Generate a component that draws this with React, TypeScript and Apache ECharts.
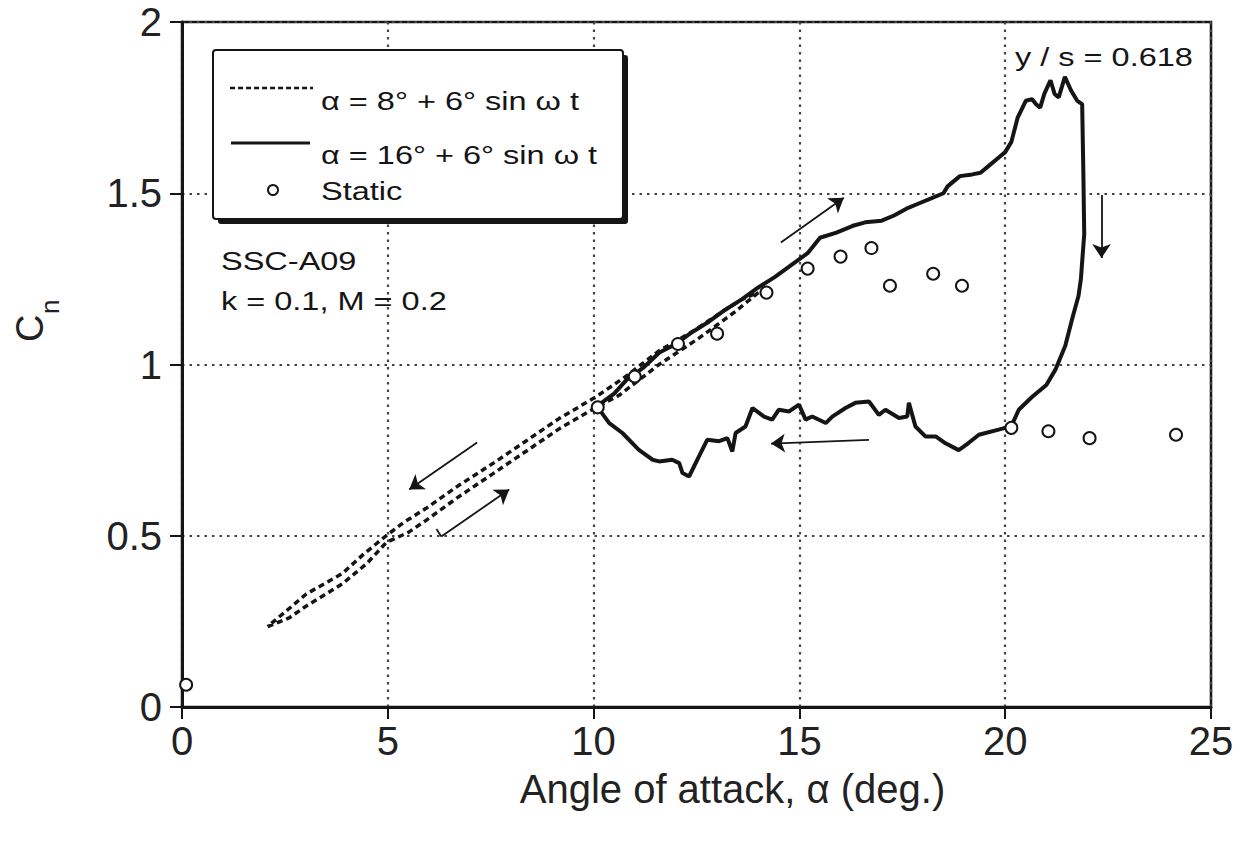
import React, { useEffect, useRef } from "react";
import * as echarts from "echarts";

// ---------- data ----------
const xTicks = [0, 5, 10, 15, 20, 25];
const yTicks = [0, 0.5, 1, 1.5, 2];

// alpha = 8 + 6 sin wt  (lower branch then upper branch)
const dashAlpha = [
  2.08, 2.6, 3.02, 3.5, 3.9, 4.5, 4.96, 5.5, 5.93, 6.7, 7.54, 8.4, 9.16, 9.96, 10.62, 11.59, 12.56, 13.45, 14.0,
  13.6, 13.2, 12.4, 11.59, 10.78, 10.05, 9.16, 8.4, 7.54, 6.7, 5.93, 5.4, 4.96, 4.4, 3.9, 3.02, 2.53, 2.08,
];
const dashCn = [
  0.235, 0.26, 0.295, 0.33, 0.36, 0.42, 0.48, 0.51, 0.545, 0.612, 0.68, 0.75, 0.812, 0.868, 0.91, 1.0, 1.077, 1.155, 1.21,
  1.19, 1.16, 1.096, 1.04, 0.965, 0.905, 0.842, 0.78, 0.71, 0.645, 0.58, 0.54, 0.5, 0.445, 0.39, 0.33, 0.28, 0.235,
];

// alpha = 16 + 6 sin wt  (upstroke, stall, downstroke)
const solidAlpha = [
  10.1, 10.5, 10.8, 11.2, 11.6, 12.0, 12.4, 12.8, 13.2, 13.6, 14.0, 14.4, 14.8, 15.2, 15.5, 15.9, 16.3, 16.6, 17.0,
  17.3, 17.6, 17.9, 18.2, 18.5, 18.6, 18.9, 19.2, 19.4, 19.6, 19.8, 20.0, 20.15, 20.3, 20.5, 20.65, 20.75, 20.85,
  20.95, 21.1, 21.2, 21.3, 21.45, 21.6, 21.75, 21.87, 21.9, 21.92, 21.87, 21.84, 21.78, 21.62, 21.46, 21.22, 21.0,
  20.65, 20.33, 20.15, 19.84, 19.36, 19.1, 18.87, 18.55, 18.31, 18.06, 17.82, 17.66, 17.62, 17.42, 17.09, 16.93,
  16.69, 16.36, 16.12, 15.8, 15.64, 15.31, 15.15, 14.99, 14.75, 14.5, 14.34, 14.14, 13.86, 13.69, 13.45, 13.37,
  13.25, 13.05, 12.76, 12.56, 12.32, 12.16, 12.08, 11.91, 11.59, 11.43, 11.1, 10.7, 10.38, 10.1,
];
const solidCn = [
  0.88, 0.915, 0.955, 0.99, 1.035, 1.06, 1.095, 1.125, 1.16, 1.19, 1.225, 1.255, 1.29, 1.325, 1.37, 1.385, 1.405, 1.415, 1.42,
  1.435, 1.455, 1.47, 1.485, 1.5, 1.52, 1.55, 1.555, 1.56, 1.58, 1.6, 1.62, 1.65, 1.72, 1.77, 1.775, 1.76, 1.75,
  1.79, 1.83, 1.79, 1.78, 1.84, 1.8, 1.77, 1.76, 1.55, 1.38, 1.3, 1.25, 1.2, 1.13, 1.055, 0.985, 0.94,
  0.905, 0.868, 0.82, 0.81, 0.795, 0.77, 0.75, 0.77, 0.79, 0.79, 0.819, 0.888, 0.848, 0.844, 0.868, 0.853,
  0.892, 0.888, 0.873, 0.848, 0.829, 0.848, 0.839, 0.883, 0.863, 0.868, 0.839, 0.848, 0.873, 0.819, 0.8, 0.746,
  0.785, 0.776, 0.78, 0.732, 0.673, 0.683, 0.712, 0.722, 0.717, 0.722, 0.751, 0.8, 0.829, 0.875,
];

const staticAlpha = [0.1, 10.1, 11.0, 12.05, 13.0, 14.2, 15.2, 16.0, 16.75, 17.2, 18.25, 18.95, 20.15, 21.05, 22.05, 24.15];
const staticCn = [0.065, 0.875, 0.965, 1.06, 1.09, 1.21, 1.28, 1.315, 1.34, 1.23, 1.265, 1.23, 0.815, 0.805, 0.785, 0.795];

// direction arrows (data coordinates: tail -> head)
const arrowPaths: number[][][] = [
  [[14.55, 1.356], [16.08, 1.487]],
  [[22.34, 1.495], [22.34, 1.311]],
  [[16.69, 0.78], [14.31, 0.769]],
  [[7.17, 0.772], [5.52, 0.635]],
  [[6.3, 0.498], [7.95, 0.635]],
];
// small hook at the tail of the last arrow
const hookPath: number[][] = [[6.18, 0.52], [6.3, 0.498]];

const legendDash = "α = 8° + 6° sin ω t";
const legendSolid = "α = 16° + 6° sin ω t";
const legendStatic = "Static";
const noteAirfoil = "SSC-A09";
const noteParams = "k = 0.1, M = 0.2";
const noteSpan = "y / s = 0.618";
const xName = "Angle of attack, α (deg.)";

const FONT = '"Liberation Sans", Arial, Helvetica, sans-serif';
const INK = "#151515";

const zip = (a: number[], b: number[]) => a.map((v, i) => [v, b[i]]);

export default function App() {
  const ref = useRef<HTMLDivElement>(null);

  useEffect(() => {
    if (!ref.current) return;
    const chart = echarts.init(ref.current, undefined, { renderer: "svg" });

    const txt = (text: string, x: number, y: number) => ({
      type: "text",
      x,
      y,
      scaleX: 1.25,
      z: 110,
      style: {
        text,
        font: `26px ${FONT}`,
        fill: INK,
        textAlign: "left",
        textVerticalAlign: "middle",
        align: "left",
        verticalAlign: "middle",
      },
    });

    const gridLine = { show: true, lineStyle: { type: [2.5, 5], color: "#444", width: 2.2 } };

    chart.setOption({
      animation: false,
      backgroundColor: "#fff",
      grid: {
        left: 182,
        right: 32,
        top: 22,
        bottom: 137,
        show: true,
        borderColor: INK,
        borderWidth: 2.5,
      },
      xAxis: {
        type: "value",
        min: xTicks[0],
        max: xTicks[xTicks.length - 1],
        interval: 5,
        name: xName,
        nameLocation: "middle",
        nameGap: 62,
        nameTextStyle: { fontSize: 40, fontFamily: FONT, color: "#222", padding: [0, 0, 0, 72] },
        axisLine: { lineStyle: { color: INK, width: 3 } },
        axisTick: { length: 12, lineStyle: { color: INK, width: 2 } },
        axisLabel: { fontSize: 40, fontFamily: FONT, color: "#222", margin: 14 },
        splitLine: gridLine,
      },
      yAxis: {
        type: "value",
        min: yTicks[0],
        max: yTicks[yTicks.length - 1],
        interval: 0.5,
        axisLine: { show: true, lineStyle: { color: INK, width: 3 } },
        axisTick: { show: true, length: 12, lineStyle: { color: INK, width: 2 } },
        axisLabel: { fontSize: 40, fontFamily: FONT, color: "#222", margin: 20 },
        splitLine: gridLine,
      },
      series: [
        {
          name: legendDash,
          type: "line",
          data: zip(dashAlpha, dashCn),
          showSymbol: false,
          lineStyle: { color: INK, width: 3.5, type: [6, 4] },
          z: 3,
        },
        {
          name: legendSolid,
          type: "line",
          data: zip(solidAlpha, solidCn),
          showSymbol: false,
          lineStyle: { color: INK, width: 4 },
          z: 4,
        },
        {
          name: legendStatic,
          type: "scatter",
          data: zip(staticAlpha, staticCn),
          symbol: "circle",
          symbolSize: 12,
          itemStyle: { color: "#fff", borderColor: INK, borderWidth: 2, opacity: 1 },
          z: 6,
        },
        {
          type: "lines",
          coordinateSystem: "cartesian2d",
          symbol: ["none", "arrow"],
          symbolSize: 14,
          lineStyle: { color: INK, width: 1.8, opacity: 1, curveness: 0 },
          data: arrowPaths.map((c) => ({ coords: c })),
          z: 5,
        },
        {
          type: "lines",
          coordinateSystem: "cartesian2d",
          symbol: ["none", "none"],
          lineStyle: { color: INK, width: 1.8, opacity: 1 },
          data: [{ coords: hookPath }],
          z: 5,
        },
      ],
      graphic: [
        { type: "rect", z: 100, shape: { x: 218, y: 55, width: 410, height: 169, r: 3 }, style: { fill: INK } },
        {
          type: "rect",
          z: 101,
          shape: { x: 213, y: 50, width: 410, height: 169, r: 3 },
          style: { fill: "#fff", stroke: INK, lineWidth: 2 },
        },
        {
          type: "line",
          z: 110,
          shape: { x1: 230, y1: 88, x2: 313, y2: 88 },
          style: { stroke: INK, lineWidth: 2.5, lineDash: [5, 3] },
        },
        txt(legendDash, 321, 101),
        {
          type: "line",
          z: 110,
          shape: { x1: 231, y1: 143, x2: 310, y2: 143 },
          style: { stroke: INK, lineWidth: 3 },
        },
        txt(legendSolid, 321, 155),
        {
          type: "circle",
          z: 110,
          shape: { cx: 273, cy: 190, r: 5 },
          style: { fill: "#fff", stroke: INK, lineWidth: 2 },
        },
        txt(legendStatic, 321, 191),
        txt(noteAirfoil, 221, 261),
        txt(noteParams, 221, 301),
        txt(noteSpan, 1015, 57),
        {
          type: "group",
          x: 30,
          y: 342,
          rotation: Math.PI / 2,
          z: 110,
          children: [
            {
              type: "text",
              x: 0,
              y: 0,
              style: {
                text: "C",
                font: `38px ${FONT}`,
                fill: "#222",
                textAlign: "left",
                textVerticalAlign: "middle",
                align: "left",
                verticalAlign: "middle",
              },
            },
            {
              type: "text",
              x: 28,
              y: 20,
              style: {
                text: "n",
                font: `26px ${FONT}`,
                fill: "#222",
                textAlign: "left",
                textVerticalAlign: "middle",
                align: "left",
                verticalAlign: "middle",
              },
            },
          ],
        },
      ],
    });

    return () => chart.dispose();
  }, []);

  return (
    <div
      ref={ref}
      style={{ position: "absolute", left: 0, top: 0, width: 1243, height: 844, background: "#fff" }}
    />
  );
}
